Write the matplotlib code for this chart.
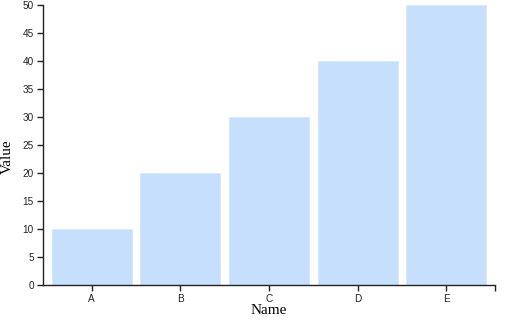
import matplotlib.pyplot as plt
import numpy as np

names = ["A", "B", "C", "D", "E"]
values = [10, 20, 30, 40, 50]

W, H = 505, 323
PX = 0.72  # points per pixel at dpi 100
fig = plt.figure(figsize=(W / 100, H / 100), dpi=100)
ax = fig.add_axes([43 / W, (H - 285) / H, 452 / W, 280 / H])

x = np.arange(len(names))
ax.bar(x, values, width=0.9, color="#c6dffc", edgecolor="#d6e8fd", linewidth=0.6)

ax.set_xlim(-0.55, len(names) - 0.45)
ax.set_ylim(0, 50)
ax.set_yticks(range(0, 51, 5))
ax.set_xticks(x)
ax.set_xticklabels(names)

for side in ["top", "right"]:
    ax.spines[side].set_visible(False)
for side in ["left", "bottom"]:
    ax.spines[side].set_color("#222222")
    ax.spines[side].set_linewidth(1)

ax.tick_params(length=6 * PX, width=1, color="#222222", labelsize=7.2,
               labelcolor="#222222", pad=3 * PX)
for lab in ax.get_xticklabels() + ax.get_yticklabels():
    lab.set_family("Liberation Sans")

# outer tick at right end of x domain
ax.plot([1, 1], [0, -6 / 280], transform=ax.transAxes, color="#222222",
        lw=1, clip_on=False, solid_capstyle="butt")

fig.text(269 / W, 1 - 311 / H, "Name", ha="center", va="center",
         family="Liberation Serif", fontsize=11)
fig.text(7 / W, 1 - 157 / H, "Value", ha="center", va="center", rotation=90,
         family="Liberation Serif", fontsize=11)

fig.savefig("out.png", dpi=100)
